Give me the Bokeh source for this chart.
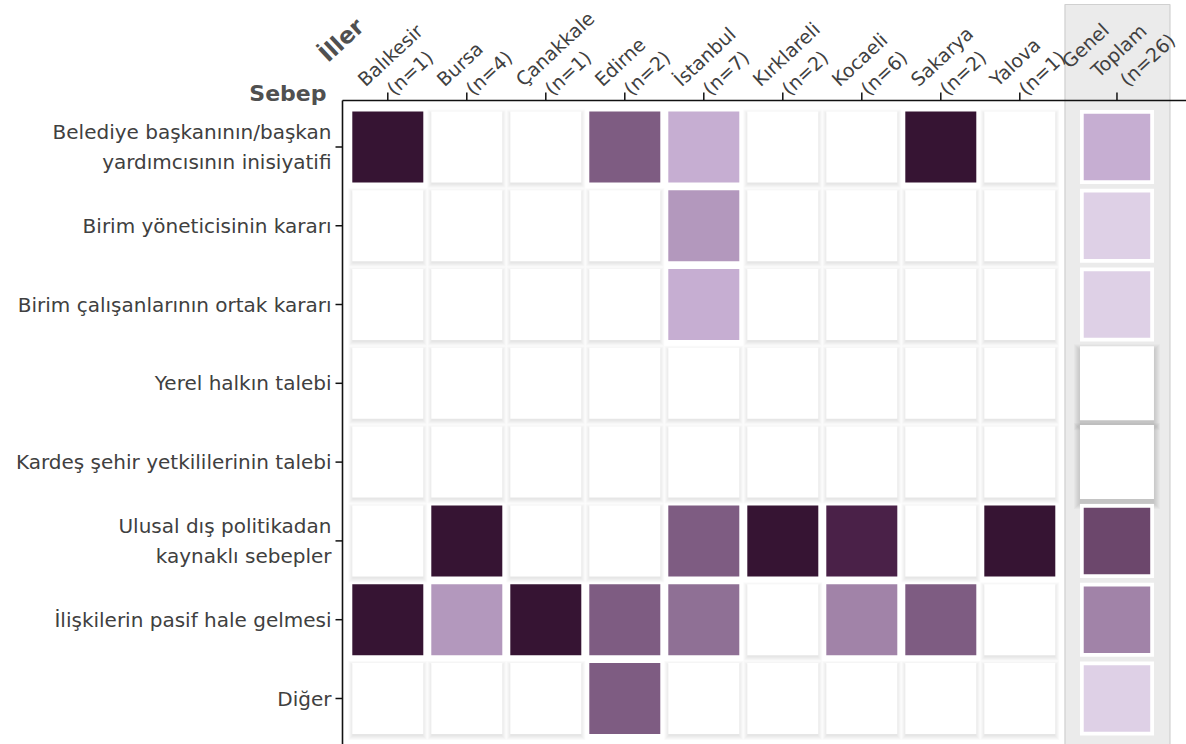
from bokeh.plotting import figure
from bokeh.models import ColumnDataSource, LinearColorMapper, Range1d
from bokeh.transform import transform
from bokeh.core.properties import value
from bokeh.embed import file_html
from bokeh.resources import INLINE

# ---------------- data ----------------
reasons = [
    "Belediye başkanının/başkan\nyardımcısının inisiyatifi",
    "Birim yöneticisinin kararı",
    "Birim çalışanlarının ortak kararı",
    "Yerel halkın talebi",
    "Kardeş şehir yetkililerinin talebi",
    "Ulusal dış politikadan\nkaynaklı sebepler",
    "İlişkilerin pasif hale gelmesi",
    "Diğer",
]
cities = ["Balıkesir", "Bursa", "Çanakkale", "Edirne", "İstanbul",
          "Kırklareli", "Kocaeli", "Sakarya", "Yalova"]
city_n = [1, 4, 1, 2, 7, 2, 6, 2, 1]
total_words = ["Genel", "Toplam"]
total_n = 26

# share (%) of municipalities per reason, in the order of `reasons`
share_balikesir = [100, 0, 0, 0, 0, 0, 100, 0]
share_bursa = [0, 0, 0, 0, 0, 100, 25, 0]
share_canakkale = [0, 0, 0, 0, 0, 0, 100, 0]
share_edirne = [50, 0, 0, 0, 0, 0, 50, 50]
share_istanbul = [14, 29, 14, 0, 0, 57, 43, 0]
share_kirklareli = [0, 0, 0, 0, 0, 100, 0, 0]
share_kocaeli = [0, 0, 0, 0, 0, 83, 33, 0]
share_sakarya = [100, 0, 0, 0, 0, 0, 50, 0]
share_yalova = [0, 0, 0, 0, 0, 100, 0, 0]
share_total = [19, 8, 4, 0, 0, 62, 38, 4]

city_shares = [share_balikesir, share_bursa, share_canakkale, share_edirne,
               share_istanbul, share_kirklareli, share_kocaeli, share_sakarya,
               share_yalova]

palette = ["#ded0e6", "#c6aed2", "#b398bd", "#a183a8", "#8f7095",
           "#7e5c82", "#6c476c", "#5b345b", "#4a2148", "#361433"]

# ---------------- geometry / style ----------------
FONT = "DejaVu Sans"
TEXT = "#404040"
HEAD = "#505050"
AXIS = "#111111"
W, H = 1186, 744
AXIS_TOP = 100                    # px of the top axis line
AXIS_LEFT = 342                   # px of the left axis line
TICK = 7
ANGLE = 43
PX_X, PX_Y = 79.0, 78.8           # pixels per column / row
ORIGIN_X, ORIGIN_Y = 387.3, 146.4  # px of first column / row centre
GENEL_GAP = 0.23
CELL = 71
TCELL, TINNER = 74, 66.5


def fx(px):
    return (px - ORIGIN_X) / PX_X


def fy(py):
    return (ORIGIN_Y - py) / PX_Y


col_x = list(range(len(cities))) + [len(cities) + GENEL_GAP]
row_y = [-j for j in range(len(reasons))]
gx = col_x[-1]

p = figure(width=W, height=H, x_range=Range1d(fx(0), fx(W)),
           y_range=Range1d(fy(H), fy(0)), x_axis_type=None,
           y_axis_type=None, output_backend="svg", toolbar_location=None,
           tools="", min_border=0)
p.outline_line_color = None
p.grid.visible = False

# grey panel behind the total column
p.quad(left=[gx - 52 / PX_X], right=[gx + 53 / PX_X], top=[fy(4)],
       bottom=[fy(H + 20)], fill_color="#ebebeb", line_color="#d0d0d0",
       line_width=1.2)

# ---- axes (drawn through the data scales) ----
p.segment(x0=[fx(AXIS_LEFT)], y0=[fy(AXIS_TOP)], x1=[fx(W)], y1=[fy(AXIS_TOP)],
          line_color=AXIS, line_width=1.6)
p.segment(x0=[fx(AXIS_LEFT)], y0=[fy(AXIS_TOP)], x1=[fx(AXIS_LEFT)],
          y1=[fy(H + 5)], line_color=AXIS, line_width=1.6)
p.segment(x0=col_x, y0=[fy(AXIS_TOP - 8)] * len(col_x), x1=col_x,
          y1=[fy(AXIS_TOP)] * len(col_x), line_color=AXIS, line_width=1.5)
p.segment(x0=[fx(AXIS_LEFT - TICK)] * len(row_y), y0=row_y,
          x1=[fx(AXIS_LEFT)] * len(row_y), y1=row_y, line_color=AXIS,
          line_width=1.5)
p.text(x=[fx(AXIS_LEFT - TICK - 4)] * len(row_y), y=row_y, text=reasons,
       text_align="right", text_baseline="middle", text_font=value(FONT),
       text_font_size=value("20px"), text_line_height=1.25, text_color=TEXT)

# ---- column headers (rotated, one text per line) ----
LINE_STEP = (29, 9)
hx, hy, ht = [], [], []


def header(lines, cx, off_x, base_y):
    tick_px = ORIGIN_X + cx * PX_X
    n = len(lines)
    for k, t in enumerate(lines):
        back = n - 1 - k
        hx.append(fx(tick_px + off_x - back * LINE_STEP[0]))
        hy.append(fy(base_y - back * LINE_STEP[1]))
        ht.append(t)


for cx, name, n in zip(col_x, cities, city_n):
    header([name, f"(n={n})"], cx, 2, 91)
header(total_words + [f"(n={total_n})"], gx, 6, 82)

p.text(x="x", y="y", text="t", source=ColumnDataSource(dict(x=hx, y=hy, t=ht)),
       angle=ANGLE, angle_units="deg", text_align="left",
       text_baseline="alphabetic", text_font=value(FONT),
       text_font_size=value("19px"), text_color=TEXT)

p.text(x=[fx(326)], y=[fy(93)], text=["Sebep"], text_align="right",
       text_baseline="alphabetic", text_font=value(FONT),
       text_font_style=value("bold"), text_font_size=value("22px"),
       text_color=HEAD)
p.text(x=[fx(322)], y=[fy(57)], text=["İller"], angle=ANGLE,
       angle_units="deg", text_align="left", text_baseline="alphabetic",
       text_font=value(FONT), text_font_style=value("bold"),
       text_font_size=value("23px"), text_color=HEAD)

# ---- cells ----
mapper = LinearColorMapper(palette=palette, low=0, high=100)


def split(cols, shares_list, drop):
    zero = dict(x=[], y=[], ys=[])
    pos = dict(x=[], y=[], v=[])
    for cx, shares in zip(cols, shares_list):
        for ry, v in zip(row_y, shares):
            if v > 0:
                pos["x"].append(cx)
                pos["y"].append(ry)
                pos["v"].append(v)
            else:
                zero["x"].append(cx)
                zero["y"].append(ry)
                zero["ys"].append(ry - drop / PX_Y)
    return ColumnDataSource(zero), ColumnDataSource(pos)


def shadow(src, size, alpha, layers):
    for k in range(1, layers + 1):
        p.rect(x="x", y="ys", width=size + 2 * k - 2, height=size + 2 * k - 2,
               width_units="screen", height_units="screen", source=src,
               fill_color="black", fill_alpha=alpha, line_color=None)


# city cells
zsrc, psrc = split(col_x[:-1], city_shares, 2)
shadow(zsrc, CELL, 0.018, 5)
p.rect(x="x", y="y", width=CELL, height=CELL, width_units="screen",
       height_units="screen", source=zsrc, fill_color="white", line_color=None)
p.rect(x="x", y="y", width=CELL, height=CELL, width_units="screen",
       height_units="screen", source=psrc,
       fill_color=transform("v", mapper), line_color=None)

# total cells
tz, tp = split([gx], [share_total], 4)
shadow(tz, TCELL, 0.022, 7)
p.rect(x="x", y="y", width=TCELL, height=TCELL, width_units="screen",
       height_units="screen", source=tz, fill_color="white", line_color=None)
p.rect(x="x", y="y", width=TCELL, height=TCELL, width_units="screen",
       height_units="screen", source=tp, fill_color="white", line_color=None)
p.rect(x="x", y="y", width=TINNER, height=TINNER, width_units="screen",
       height_units="screen", source=tp,
       fill_color=transform("v", mapper), line_color=None)

open("out.html", "w").write(file_html(p, INLINE))
